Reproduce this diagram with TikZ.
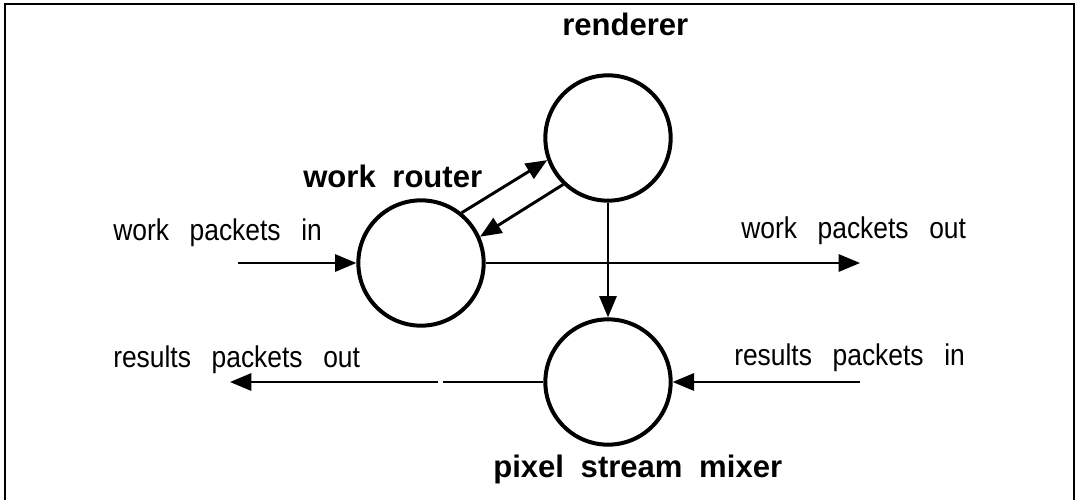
\documentclass[tikz,border=0pt]{standalone}
\usepackage{fontspec}
\setmainfont{Liberation Sans}
\newfontfamily\narrowsans[FakeStretch=0.88]{Liberation Sans}
\usetikzlibrary{arrows.meta}
\newcommand\mylblfont{\narrowsans\fontsize{22.5}{26}\selectfont\spaceskip 15.5pt\relax}
\newcommand\myblblfont{\fontsize{23.3}{27}\selectfont\bfseries\spaceskip 12.5pt\relax}
\begin{document}
\begin{tikzpicture}[x=0.75pt,y=-0.75pt,
  proc/.style={circle,draw,line width=3pt,minimum size=94pt,inner sep=0pt},
  lbl/.style={anchor=base west,inner sep=0pt,font=\mylblfont},
  blbl/.style={anchor=base west,inner sep=0pt,font=\myblblfont},
  conn/.style={line width=1.5pt},
  tip/.style={-{Triangle[length=16pt,width=13pt]}},
  darr/.style={line width=2.2pt,-{Triangle[length=16pt,width=13pt]}}]
\useasboundingbox (0,0) rectangle (1077,500);
\draw[line width=1.8pt] (5,500) -- (5,4) -- (1074,4) -- (1074,500);
% process nodes
\node[proc] (router) at (421,263) {};
\node[proc] (renderer) at (608,138) {};
\node[proc] (mixer) at (608,382) {};
% labels
\node[blbl] (lrend) at (562,35) {renderer};
\node[blbl] (lrout) at (303,187) {work router};
\node[blbl] (lmix) at (493,477) {pixel stream mixer};
\node[lbl] (lwpin) at (113,240) {work packets in};
\node[lbl] (lwpout) at (741,238) {work packets out};
\node[lbl] (lrpout) at (113,367) {results packets out};
\node[lbl] (lrpin) at (734,365) {results packets in};
% free ends
\coordinate (wpin) at (238,263);
\coordinate (wpout) at (860,263);
\coordinate (rpin) at (860,382);
\coordinate (rpout) at (230,382);
\coordinate (gapa) at (443,382);
\coordinate (gapb) at (438,382);
% connectors
\draw[conn,tip] (wpin) -- (router.west);
\draw[conn,tip] (router.east) -- (wpout);
\draw[conn,tip] (rpin) -- (mixer.east);
\draw[conn] (mixer.west) -- (gapa);
\draw[conn,tip] (gapb) -- (rpout);
\draw[conn,tip] (renderer.south) -- (mixer.north);
\draw[darr] (router.51.5) -- (renderer.200);
\draw[darr] (renderer.226.5) -- (router.24);
\end{tikzpicture}
\end{document}
